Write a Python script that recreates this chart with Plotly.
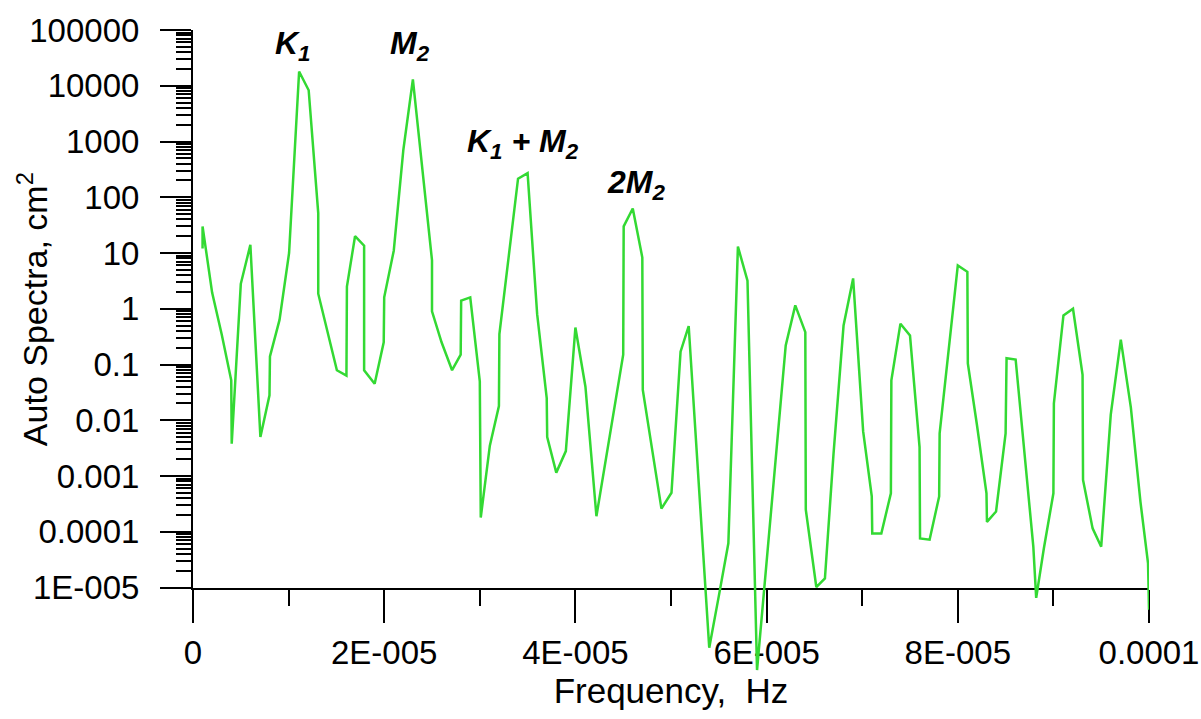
import plotly.graph_objects as go

# ---- data ----
freq_uhz = [1.0, 1.0, 2.0, 3.0, 4.0, 4.05, 5.0, 6.0, 7.05, 8.0, 8.05, 9.05, 10.05, 11.1, 12.1,
            13.1, 13.1, 14.2, 15.05, 16.05, 16.1, 16.95, 17.9, 17.9, 19.0, 19.95, 20.0, 21.0,
            22.0, 23.0, 24.0, 25.0, 25.0, 26.0, 27.1, 28.0, 28.05, 29.0, 30.0, 30.1, 31.05,
            32.0, 32.05, 33.0, 34.0, 35.0, 36.0, 37.0, 37.05, 38.0, 39.0, 40.0, 41.05, 42.2,
            43.0, 44.0, 45.0, 45.05, 46.0, 47.0, 47.05, 48.0, 49.0, 50.05, 51.0, 51.85, 53.0,
            54.0, 55.0, 56.0, 57.0, 58.0, 59.0, 60.0, 61.0, 62.0, 63.0, 64.05, 64.1, 65.2,
            66.1, 67.0, 68.05, 69.05, 70.1, 71.0, 71.05, 72.0, 73.0, 73.05, 74.0, 75.0, 76.0,
            76.05, 77.05, 78.05, 78.1, 79.0, 80.0, 81.0, 81.05, 82.0, 83.0, 83.05, 84.0, 85.0,
            85.1, 86.05, 87.0, 87.9, 88.2, 89.0, 90.0, 90.05, 91.05, 92.05, 93.05, 93.1, 94.1,
            95.0, 96.0, 97.05, 98.1, 99.1, 99.9, 100.0]

spectra = [12, 30, 1.95, 0.35, 0.052, 0.0038, 2.8, 14, 0.005, 0.028, 0.14, 0.63, 10, 18000, 8300,
           52, 1.86, 0.3, 0.079, 0.063, 2.5, 20, 13.5, 0.079, 0.045, 0.25, 1.6, 11,
           700, 13000, 320, 7.4, 0.9, 0.25, 0.079, 0.15, 1.4, 1.6, 0.05, 0.00018, 0.0035,
           0.018, 0.35, 9, 215, 270, 0.8, 0.025, 0.005, 0.00115, 0.0028, 0.46, 0.04, 0.00019,
           0.00126, 0.014, 0.15, 30, 63, 8.3, 0.035, 0.0032, 0.00026, 0.0005, 0.17, 0.49, 0.0005,
           8.3e-7, 7e-6, 6.2e-5, 13, 3.2, 3.3e-7, 2.8e-5, 0.0022, 0.22, 1.15, 0.38, 0.00025, 1.02e-5,
           1.45e-5, 0.0025, 0.5, 3.5, 0.0063, 0.00043, 9.3e-5, 9.3e-5, 0.00049, 0.052, 0.54, 0.33, 0.0033,
           7.6e-5, 7.2e-5, 0.00043, 0.0058, 0.16, 6, 4.6, 0.105, 0.0083, 0.00049, 0.00015, 0.00023, 0.0058,
           0.13, 0.123, 0.0025, 5.4e-5, 6.5e-6, 5e-5, 0.00049, 0.02, 0.76, 1.0, 0.065, 0.00085, 0.000115,
           5.4e-5, 0.0126, 0.28, 0.017, 0.00035, 2.7e-5, 4e-6]

x_tick_vals = [0, 2e-5, 4e-5, 6e-5, 8e-5, 1e-4]
x_tick_text = ["0", "2E-005", "4E-005", "6E-005", "8E-005", "0.0001"]
x_minor_vals = [1e-5, 3e-5, 5e-5, 7e-5, 9e-5]

y_tick_vals = [1e-5, 1e-4, 1e-3, 1e-2, 1e-1, 1, 10, 100, 1000, 10000, 100000]
y_tick_text = ["1E-005", "0.0001", "0.001", "0.01", "0.1", "1", "10", "100", "1000", "10000", "100000"]
y_minor_vals = [m * d for d in y_tick_vals[:-1] for m in (2, 3, 4, 5, 6, 7, 8, 9)]

peak_labels = ["<b><i>K<sub>1</sub></i></b>", "<b><i>M<sub>2</sub></i></b>",
               "<b><i>K<sub>1</sub> + M<sub>2</sub></i></b>", "<b><i>2M<sub>2</sub></i></b>"]
peak_label_x = [10.45e-6, 22.7e-6, 34.55e-6, 46.3e-6]
peak_label_logy = [4.72, 4.72, 2.96, 2.23]

freq_hz = [f * 1e-6 for f in freq_uhz]

FONT = "Liberation Sans, Arial, sans-serif"

fig = go.Figure()
fig.add_trace(go.Scatter(x=freq_hz, y=spectra, mode="lines",
                         line=dict(color="#33d933", width=2.5),
                         xaxis="x", yaxis="y2", showlegend=False, hoverinfo="skip"))
fig.add_trace(go.Scatter(x=[None], y=[None], xaxis="x", yaxis="y",
                         showlegend=False, hoverinfo="skip"))

for txt, xv, yv in zip(peak_labels, peak_label_x, peak_label_logy):
    fig.add_annotation(x=xv, y=yv, xref="x", yref="y", text=txt, showarrow=False,
                       font=dict(family=FONT, size=32, color="black"))

# y-axis title as a rotated text (placed a bit closer to the tick labels than plotly allows)
fig.add_annotation(x=-0.1685, y=0.5826, xref="paper", yref="paper",
                   text="Auto Spectra, cm<sup>2</sup>", textangle=-90, showarrow=False,
                   xanchor="center", yanchor="middle",
                   font=dict(family=FONT, size=34, color="black"))

fig.update_layout(
    width=1201, height=719,
    margin=dict(l=193.3, r=51.7, t=29.5, b=19.9, autoexpand=False),
    paper_bgcolor="white", plot_bgcolor="rgba(0,0,0,0)",
    font=dict(family=FONT, color="black"),
    showlegend=False,
    xaxis=dict(range=[0, 1e-4], domain=[0, 1], anchor="y",
               showline=True, linecolor="black", linewidth=2, mirror=False,
               ticks="outside", ticklen=33, tickwidth=2, tickcolor="black",
               tickmode="array", tickvals=x_tick_vals, ticktext=x_tick_text,
               tickfont=dict(size=33), ticklabelstandoff=2,
               minor=dict(tickmode="array", tickvals=x_minor_vals, ticks="outside",
                          ticklen=16, tickwidth=2, tickcolor="black", showgrid=False),
               showgrid=False, zeroline=False, automargin=False,
               title=dict(text="Frequency,\u00a0 Hz", font=dict(size=35), standoff=0)),
    yaxis=dict(type="log", range=[-5, 5], domain=[2 / 12, 1], anchor="x",
               showline=True, linecolor="black", linewidth=2,
               ticks="outside", ticklen=31, tickwidth=2, tickcolor="black",
               tickmode="array", tickvals=y_tick_vals, ticktext=y_tick_text,
               tickfont=dict(size=33), ticklabelstandoff=14,
               minor=dict(tickmode="array", tickvals=y_minor_vals, ticks="outside",
                          ticklen=15, tickwidth=1.5, tickcolor="black", showgrid=False),
               showgrid=False, zeroline=False, automargin=False),
    yaxis2=dict(type="log", range=[-7, 5], domain=[0, 1], anchor="x",
                visible=False, showgrid=False, zeroline=False),
)

fig.write_html("out.html", config={"displayModeBar": False},
               post_script="document.body.style.margin='0px';")
